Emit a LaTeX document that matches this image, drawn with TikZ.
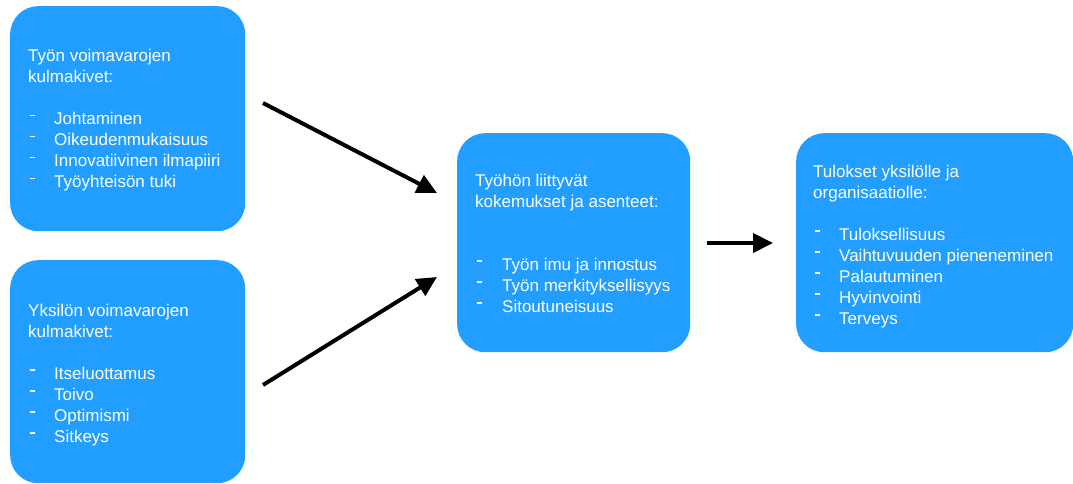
\documentclass[tikz,border=0pt]{standalone}
\usepackage{fontspec}
\setmainfont{Liberation Sans}
\usetikzlibrary{arrows.meta}
\definecolor{boxblue}{RGB}{33,158,255}
% list item: a short raised dash, then the item text
\newcommand\dashitem[2][26pt]{\makebox[#1][l]{\hspace{1.5pt}\rule[8.5pt]{5pt}{1.8pt}}#2}
\begin{document}
\begin{tikzpicture}[x=1pt,y=-1pt,
  box/.style={fill=boxblue, rounded corners=28pt, inner sep=0pt, anchor=north west},
  txt/.style={text=white, inner sep=0pt, anchor=base west,
              font=\fontsize{17}{21}\selectfont},
  flow/.style={line width=4pt, -{Triangle[length=20pt,width=19pt]}}]
\useasboundingbox (0,0) rectangle (1073,484);
\fill[white] (0,0) rectangle (1073,484);

% boxes
\node[box, minimum width=235pt, minimum height=225pt] (res) at (10,6) {};
\node[box, minimum width=235pt, minimum height=223pt] (ind) at (10,260) {};
\node[box, minimum width=233pt, minimum height=219pt] (exp) at (457,133) {};
\node[box, minimum width=277pt, minimum height=219pt] (out) at (796,133) {};

% texts
\node[txt] (restxt) at (28,62) {\begin{tabular}[t]{@{}l@{}}
  Työn voimavarojen\\ kulmakivet:\\ \\
  \dashitem{Johtaminen}\\ \dashitem{Oikeudenmukaisuus}\\
  \dashitem{Innovatiivinen ilmapiiri}\\ \dashitem{Työyhteisön tuki}
\end{tabular}};
\node[txt] (indtxt) at (28,316) {\begin{tabular}[t]{@{}l@{}}
  Yksilön voimavarojen\\ kulmakivet:\\ \\
  \dashitem{Itseluottamus}\\ \dashitem{Toivo}\\
  \dashitem{Optimismi}\\ \dashitem{Sitkeys}
\end{tabular}};
\node[txt] (exptxt) at (475,186) {\begin{tabular}[t]{@{}l@{}}
  Työhön liittyvät\\ kokemukset ja asenteet:\\ \\ \\
  \dashitem[27pt]{Työn imu ja innostus}\\ \dashitem[27pt]{Työn merkityksellisyys}\\
  \dashitem[27pt]{Sitoutuneisuus}
\end{tabular}};
\node[txt] (outtxt) at (813,177) {\begin{tabular}[t]{@{}l@{}}
  Tulokset yksilölle ja\\ organisaatiolle:\\ \\
  \dashitem{Tuloksellisuus}\\ \dashitem{Vaihtuvuuden pieneneminen}\\
  \dashitem{Palautuminen}\\ \dashitem{Hyvinvointi}\\ \dashitem{Terveys}
\end{tabular}};

% arrow end points
\coordinate (a1s) at (263,103);
\coordinate (a1e) at (437,193);
\coordinate (a2s) at (263,385);
\coordinate (a2e) at (437,277);
\coordinate (a3s) at (707,243);
\coordinate (a3e) at (773,243);

\draw[flow] (a1s) -- (a1e);
\draw[flow] (a2s) -- (a2e);
\draw[flow] (a3s) -- (a3e);
\end{tikzpicture}
\end{document}
